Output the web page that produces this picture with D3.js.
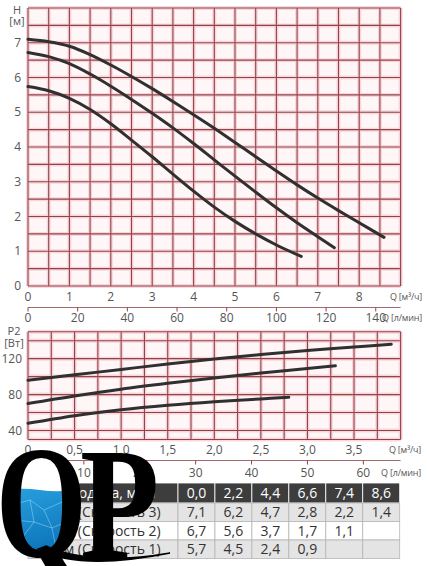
<!DOCTYPE html>
<html>
<head>
<meta charset="utf-8">
<script src="https://cdn.jsdelivr.net/npm/d3@7"></script>
<style>
  body { margin: 0; background: #fff; }
  svg { display: block; font-family: "Open Sans", sans-serif; }
</style>
</head>
<body>
<div id="chart"></div>
<script>
"use strict";

// H(Q) curves, [Q m3/h, H m]
const headSpeed3 = [[0, 7.1], [0.5, 7.03], [1, 6.9], [1.5, 6.66], [2, 6.36], [2.5, 6.03], [3, 5.68],
  [3.5, 5.31], [4, 4.93], [4.5, 4.54], [5, 4.13], [5.5, 3.72], [6, 3.31], [6.5, 2.91], [7, 2.53],
  [7.5, 2.17], [8, 1.82], [8.6, 1.4]];
const headSpeed2 = [[0, 6.72], [0.5, 6.6], [1, 6.4], [1.5, 6.1], [2, 5.75], [2.5, 5.37], [3, 4.97],
  [3.5, 4.55], [4, 4.1], [4.5, 3.63], [5, 3.16], [5.5, 2.7], [6, 2.25], [6.5, 1.82], [7, 1.42], [7.4, 1.1]];
const headSpeed1 = [[0, 5.74], [0.5, 5.62], [1, 5.4], [1.5, 5.08], [2, 4.67], [2.5, 4.2], [3, 3.72],
  [3.5, 3.22], [4, 2.73], [4.5, 2.27], [5, 1.86], [5.5, 1.5], [6, 1.18], [6.6, 0.85]];

// P2(Q) curves, [Q m3/h, P2 W]
const powerSpeed3 = [[0, 96], [0.5, 102], [1, 108], [1.5, 114], [2, 119.5], [2.5, 124.5], [3, 129], [3.5, 133], [3.9, 136]];
const powerSpeed2 = [[0, 70], [0.5, 78.5], [1, 86], [1.5, 92.5], [2, 98.5], [2.5, 104], [3, 109], [3.3, 112]];
const powerSpeed1 = [[0, 48], [0.5, 56.5], [1, 63], [1.5, 68], [2, 72], [2.5, 75.2], [2.8, 77]];

// Table
const tableFlow = [0.0, 2.2, 4.4, 6.6, 7.4, 8.6];
const tableHead3 = [7.1, 6.2, 4.7, 2.8, 2.2, 1.4];
const tableHead2 = [6.7, 5.6, 3.7, 1.7, 1.1, null];
const tableHead1 = [5.7, 4.5, 2.4, 0.9, null, null];
const tableLabels = ["Подача, м³/ч", "Н, м (Скорость 3)", "Н, м (Скорость 2)", "Н, м (Скорость 1)"];

// Ticks
const headTicksQ = [0, 1, 2, 3, 4, 5, 6, 7, 8];
const headTicksH = [0, 1, 2, 3, 4, 5, 6, 7];
const headTicksL = [0, 20, 40, 60, 80, 100, 120, 140];
const powerTicksQ = [0, 0.5, 1, 1.5, 2, 2.5, 3, 3.5];
const powerTicksP = [40, 80, 120];
const powerTicksL = [0, 10, 20, 30, 40, 50, 60];

const W = 427, H = 566;
const GRID = "#93414a";
const GLOW = "#f5c9cf";
const LABEL = "#555";
const comma = (v, d) => d3.format(`.${d}f`)(v).replace(".", ",");

const svg = d3.select("#chart").append("svg").attr("width", W).attr("height", H);

function drawGrid(g, x, y, xs, ys) {
  const [x0, x1] = x.range();
  const [y0, y1] = y.range();
  g.append("rect").attr("x", x0).attr("y", y1).attr("width", x1 - x0).attr("height", y0 - y1)
    .attr("fill", "#fff6f7");
  [[GLOW, 4, 0.7], [GRID, 1.1, 1]].forEach(([c, w, o]) => {
    const gg = g.append("g").attr("stroke", c).attr("stroke-width", w).attr("opacity", o);
    gg.selectAll("line.v").data(xs).join("line").attr("class", "v")
      .attr("x1", (d) => x(d)).attr("x2", (d) => x(d)).attr("y1", y0).attr("y2", y1);
    gg.selectAll("line.h").data(ys).join("line").attr("class", "h")
      .attr("y1", (d) => y(d)).attr("y2", (d) => y(d)).attr("x1", x0).attr("x2", x1);
  });
}

function drawCurves(g, x, y, series) {
  const line = d3.line().x((d) => x(d[0])).y((d) => y(d[1])).curve(d3.curveCatmullRom);
  g.selectAll("path.curve").data(series).join("path").attr("class", "curve")
    .attr("d", line).attr("fill", "none").attr("stroke", "#303030")
    .attr("stroke-width", 3).attr("stroke-linecap", "round");
}

function drawLitreAxis(g, scale, yPos, ticks, labelY) {
  g.append("line").attr("x1", scale.range()[0]).attr("x2", scale.range()[1])
    .attr("y1", yPos).attr("y2", yPos).attr("stroke", GRID).attr("stroke-width", 1).attr("opacity", 0.8);
  g.selectAll("line.lt").data(ticks).join("line").attr("class", "lt")
    .attr("x1", (d) => scale(d)).attr("x2", (d) => scale(d))
    .attr("y1", yPos).attr("y2", yPos + 4).attr("stroke", GRID).attr("stroke-width", 1);
  g.selectAll("text.ll").data(ticks).join("text").attr("class", "ll")
    .attr("x", (d) => scale(d)).attr("y", labelY).attr("text-anchor", "middle")
    .attr("dy", "0.35em").attr("font-size", 12).attr("fill", LABEL).text((d) => d);
}

function unitLabel(g, x, y, text) {
  g.append("text").attr("x", x).attr("y", y).attr("dy", "0.35em").attr("text-anchor", "end")
    .attr("font-size", 9).attr("letter-spacing", -0.2).attr("fill", LABEL).text(text);
}

// ---- Head chart
const xHead = d3.scaleLinear().domain([0, 9]).range([28, 400.6]);
const yHead = d3.scaleLinear().domain([0, 8]).range([286, 8]);
const xHeadL = d3.scaleLinear().domain([0, 150]).range(xHead.range());
const gHead = svg.append("g");
drawGrid(gHead, xHead, yHead, d3.range(0, 9.01, 0.5), d3.range(0, 8.01, 0.5));
drawCurves(gHead, xHead, yHead, [headSpeed3, headSpeed2, headSpeed1]);

gHead.selectAll("text.yt").data(headTicksH).join("text").attr("class", "yt")
  .attr("x", 21).attr("y", (d) => yHead(d)).attr("dy", "0.35em").attr("text-anchor", "end")
  .attr("font-size", 12).attr("fill", LABEL).text((d) => d);
gHead.selectAll("text.xt").data(headTicksQ).join("text").attr("class", "xt")
  .attr("x", (d) => xHead(d)).attr("y", 297).attr("dy", "0.35em").attr("text-anchor", "middle")
  .attr("font-size", 12).attr("fill", LABEL).text((d) => d);
gHead.append("text").attr("x", 17).attr("y", 10).attr("dy", "0.35em").attr("text-anchor", "middle")
  .attr("font-size", 11).attr("fill", LABEL).text("H");
gHead.append("text").attr("x", 17).attr("y", 21).attr("dy", "0.35em").attr("text-anchor", "middle")
  .attr("font-size", 11).attr("fill", LABEL).text("[м]");
unitLabel(gHead, 422, 297, "Q [м³/ч]");
drawLitreAxis(gHead, xHeadL, 307.5, headTicksL, 318);
unitLabel(gHead, 422, 318, "Q [л/мин]");

// ---- Power chart
const xPow = d3.scaleLinear().domain([0, 4]).range([28, 400.6]);
const yPow = d3.scaleLinear().domain([30, 150]).range([439.5, 331.7]);
const xPowL = d3.scaleLinear().domain([0, 4000 / 60]).range(xPow.range());
const gPow = svg.append("g");
drawGrid(gPow, xPow, yPow, d3.range(0, 4.01, 0.25), [30, 40, 60, 80, 100, 120, 140, 150]);
drawCurves(gPow, xPow, yPow, [powerSpeed3, powerSpeed2, powerSpeed1]);

gPow.selectAll("text.yt").data(powerTicksP).join("text").attr("class", "yt")
  .attr("x", 22).attr("y", (d) => yPow(d)).attr("dy", "0.35em").attr("text-anchor", "end")
  .attr("font-size", 12).attr("fill", LABEL).text((d) => d);
gPow.selectAll("text.xt").data(powerTicksQ).join("text").attr("class", "xt")
  .attr("x", (d) => xPow(d)).attr("y", 450).attr("dy", "0.35em").attr("text-anchor", "middle")
  .attr("font-size", 12).attr("fill", LABEL).text((d) => (d === 0 ? "0" : comma(d, 1)));
gPow.append("text").attr("x", 14).attr("y", 331).attr("dy", "0.35em").attr("text-anchor", "middle")
  .attr("font-size", 11).attr("fill", LABEL).text("P2");
gPow.append("text").attr("x", 14).attr("y", 343).attr("dy", "0.35em").attr("text-anchor", "middle")
  .attr("font-size", 11).attr("fill", LABEL).text("[Вт]");
unitLabel(gPow, 421, 450, "Q [м³/ч]");
drawLitreAxis(gPow, xPowL, 460.5, powerTicksL, 472.5);
unitLabel(gPow, 421, 472.5, "Q [л/мин]");

// ---- Table
const rows = [tableFlow, tableHead3, tableHead2, tableHead1];
const colX = d3.scaleBand().domain(d3.range(6)).range([178, 399.7]);
const rowY = d3.scaleOrdinal().domain(d3.range(4)).range([483, 503, 521.5, 540]);
const rowH = [20, 18.5, 18.5, 18.5];
const rowFill = ["#3d3d3d", "#e4e4e4", "#ffffff", "#e4e4e4"];
const labelX = [112, 103.5, 103.5, 103.5];
const gTab = svg.append("g");
rows.forEach((vals, r) => {
  const fill = rowFill[r];
  const txt = r === 0 ? "#fff" : "#333";
  const line = r === 0 ? "#fff" : "#b5b5b5";
  gTab.append("rect").attr("x", 28).attr("y", rowY(r)).attr("width", 150).attr("height", rowH[r])
    .attr("fill", fill).attr("stroke", line).attr("stroke-width", 0.8);
  gTab.append("text").attr("x", labelX[r]).attr("y", rowY(r) + rowH[r] / 2).attr("dy", "0.36em")
    .attr("text-anchor", "middle").attr("font-size", 14).attr("fill", txt).text(tableLabels[r]);
  gTab.selectAll(`rect.c${r}`).data(vals).join("rect").attr("class", `c${r}`)
    .attr("x", (d, i) => colX(i)).attr("y", rowY(r)).attr("width", colX.bandwidth()).attr("height", rowH[r])
    .attr("fill", fill).attr("stroke", line).attr("stroke-width", 0.8);
  gTab.selectAll(`text.c${r}`).data(vals).join("text").attr("class", `c${r}`)
    .attr("x", (d, i) => colX(i) + colX.bandwidth() / 2).attr("y", rowY(r) + rowH[r] / 2).attr("dy", "0.36em")
    .attr("text-anchor", "middle").attr("font-size", 14).attr("fill", txt)
    .text((d) => (d === null ? "" : comma(d, 1)));
});

// ---- QP logo
const defs = svg.append("defs");
const grad = defs.append("linearGradient").attr("id", "water").attr("x1", 0).attr("y1", 0).attr("x2", 0.4).attr("y2", 1);
grad.append("stop").attr("offset", 0).attr("stop-color", "#2aa3e2");
grad.append("stop").attr("offset", 1).attr("stop-color", "#0a70b6");
defs.append("clipPath").attr("id", "bowl").append("ellipse")
  .attr("cx", 43).attr("cy", 505).attr("rx", 34).attr("ry", 47);
const gLogo = svg.append("g");
gLogo.append("ellipse").attr("cx", 43).attr("cy", 505).attr("rx", 34).attr("ry", 47).attr("fill", "#fff");
const gWater = gLogo.append("g").attr("clip-path", "url(#bowl)");
gWater.append("path")
  .attr("d", "M0,491 Q20,487 40,490 T80,489 T100,490 L100,560 L0,560 Z").attr("fill", "url(#water)");
const cells = gWater.append("g").attr("stroke", "#a6e6ff").attr("stroke-width", 0.9).attr("fill", "none").attr("opacity", 0.5);
cells.append("path").attr("d", "M12,505 L30,500 L44,510 L62,502 L80,508 M30,500 L34,522 L52,528 L44,510 M52,528 L70,520 L62,502 M34,522 L22,538 M70,520 L78,534 M52,528 L56,548 M14,520 L34,522");
// long swash tail of the Q
gLogo.append("path").attr("d", "M38,549 C70,566 120,563 170,553 C130,560 80,562 46,546 Z")
  .attr("fill", "#000").attr("stroke", "#000").attr("stroke-width", 1.5);
gLogo.append("text").attr("transform", "translate(-4,557) scale(0.72,1)")
  .attr("font-family", "'Liberation Serif', serif").attr("font-weight", "bold").attr("font-size", 162).attr("fill", "#000")
  .text("Q");
gLogo.append("text").attr("transform", "translate(80,558) scale(0.8,1)")
  .attr("font-family", "'Liberation Serif', serif").attr("font-weight", "bold").attr("font-size", 162).attr("fill", "#000")
  .text("P");
</script>
</body>
</html>
